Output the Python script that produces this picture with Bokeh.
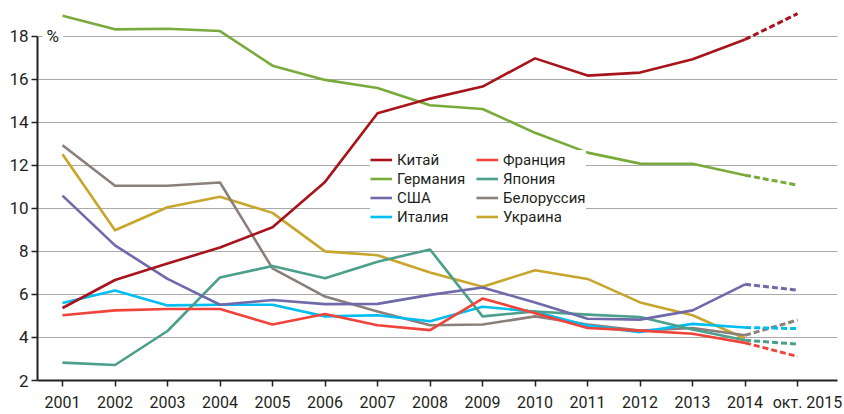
from bokeh.plotting import figure
from bokeh.models import FixedTicker, Legend, LegendItem, Label
from bokeh.embed import file_html
from bokeh.resources import INLINE

FONT = "Roboto"

years = [2001, 2002, 2003, 2004, 2005, 2006, 2007, 2008, 2009, 2010, 2011, 2012, 2013, 2014]
last_year = 2015
x_ticks = [2001, 2002, 2003, 2004, 2005, 2006, 2007, 2008, 2009, 2010, 2011, 2012, 2013, 2014, 2015]
last_label = "окт. 2015"
y_ticks = [2, 4, 6, 8, 10, 12, 14, 16, 18]
unit_label = "%"

countries = ["Китай", "Германия", "США", "Италия", "Франция", "Япония", "Белоруссия", "Украина"]

china = [5.37, 6.67, 7.44, 8.18, 9.12, 11.23, 14.42, 15.10, 15.66, 16.97, 16.17, 16.31, 16.93, 17.85]
germany = [18.95, 18.32, 18.35, 18.24, 16.63, 15.97, 15.59, 14.79, 14.62, 13.51, 12.59, 12.08, 12.07, 11.54]
usa = [10.59, 8.28, 6.72, 5.52, 5.74, 5.55, 5.56, 5.98, 6.32, 5.63, 4.87, 4.83, 5.26, 6.47]
italy = [5.60, 6.18, 5.49, 5.52, 5.52, 4.98, 5.03, 4.75, 5.43, 5.20, 4.55, 4.25, 4.63, 4.46]
france = [5.03, 5.26, 5.32, 5.32, 4.60, 5.09, 4.57, 4.34, 5.81, 5.13, 4.44, 4.32, 4.17, 3.75]
japan = [2.83, 2.72, 4.30, 6.79, 7.32, 6.75, 7.52, 8.09, 4.98, 5.21, 5.06, 4.95, 4.37, 3.87]
belarus = [12.93, 11.05, 11.05, 11.20, 7.21, 5.90, 5.21, 4.57, 4.60, 4.98, 4.60, 4.32, 4.44, 4.10]
ukraine = [12.51, 8.98, 10.05, 10.54, 9.79, 8.00, 7.82, 7.02, 6.36, 7.12, 6.72, 5.63, 5.03, 3.95]

# October 2015 values (None = no data)
oct2015 = [19.05, 11.08, 6.20, 4.41, 3.12, 3.69, 4.81, None]

series = [china, germany, usa, italy, france, japan, belarus, ukraine]
colors = ["#a8141c", "#79aa3c", "#6f6aa9", "#00bdf2", "#f0433a", "#4b9f8b", "#8b7f7b", "#c8a52b"]

# drawing order (bottom -> top)
draw_order = [7, 6, 3, 5, 2, 4, 1, 0]

p = figure(width=844, height=414, output_backend="svg", toolbar_location=None,
           x_range=(2000.524, 2015.76), y_range=(2, 19.66),
           min_border_left=37, min_border_right=7, min_border_top=0, min_border_bottom=31)
p.outline_line_color = None
p.background_fill_color = "white"

renderers = {}
for i in draw_order:
    r = p.line(years, series[i], line_color=colors[i], line_width=2.6, line_join="round")
    renderers[i] = r
    if oct2015[i] is not None:
        p.line([years[-1], last_year], [series[i][-1], oct2015[i]], line_color=colors[i],
               line_width=3, line_dash="6 3")

# axes
p.xaxis.ticker = FixedTicker(ticks=x_ticks)
# non-breaking spaces nudge the last (wider) label to the right, as in the original
p.xaxis.major_label_overrides = {last_year: "\u00a0" * 5 + last_label}
p.xaxis.minor_tick_line_color = None
p.xaxis.major_tick_in = 0
p.xaxis.major_tick_out = 10
p.xaxis.major_tick_line_dash = "0 4 6"
p.xaxis.major_tick_line_width = 1.5
p.xaxis.major_tick_line_color = "#222222"
p.xaxis.axis_line_color = "#222222"
p.xaxis.axis_line_width = 2
p.xaxis.major_label_text_font = FONT
p.xaxis.major_label_text_font_size = "16px"
p.xaxis.major_label_text_color = "#231f20"
p.xaxis.major_label_standoff = 2

p.yaxis.ticker = FixedTicker(ticks=y_ticks)
p.yaxis.bounds = (2, 18)
p.yaxis.minor_tick_line_color = None
p.yaxis.major_tick_in = 0
p.yaxis.major_tick_out = 6
p.yaxis.major_tick_line_width = 1.5
p.yaxis.major_tick_line_color = "#222222"
p.yaxis.axis_line_color = "#222222"
p.yaxis.axis_line_width = 2
p.yaxis.major_label_text_font = FONT
p.yaxis.major_label_text_font_size = "17px"
p.yaxis.major_label_text_color = "#231f20"
p.yaxis.major_label_standoff = 3

p.xgrid.grid_line_color = None
p.ygrid.ticker = FixedTicker(ticks=y_ticks[1:])
p.ygrid.grid_line_color = "#aaaaaa"
p.ygrid.grid_line_width = 1.2

# unit label
pct = Label(x=2000.62, y=18, text=unit_label, text_font=FONT, text_font_size="17px",
            text_color="#231f20", text_baseline="middle", text_align="left",
            background_fill_color="white", padding=4)
p.add_layout(pct)

# legend
items = [LegendItem(label=countries[i], renderers=[renderers[i]]) for i in range(len(countries))]
legend = Legend(items=items, ncols=2, location=(333, 154), orientation="vertical",
                glyph_width=22, glyph_height=19, label_height=19, label_width=79,
                label_standoff=5, spacing=0, padding=8, margin=0,
                label_text_font=FONT, label_text_font_size="15px", label_text_color="#231f20",
                background_fill_color="white", background_fill_alpha=1.0,
                border_line_color=None)
p.add_layout(legend)

open("out.html", "w").write(file_html(p, INLINE))
